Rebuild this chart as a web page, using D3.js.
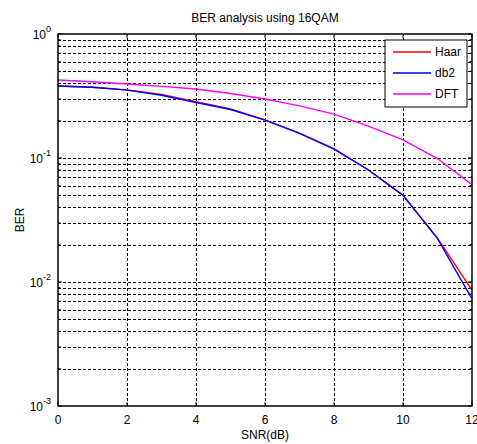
<!DOCTYPE html>
<meta charset="utf-8">
<style>
body { margin: 0; background: #fff; font-family: 'Liberation Sans', Arial, sans-serif; }
.grid line { stroke: #000; stroke-width: 1; stroke-dasharray: 3,2; shape-rendering: crispEdges; }
.lbl { font-size: 12px; fill: #000; }
.curve { fill: none; stroke-width: 1.4; }
</style>
<body>
<script src="https://d3js.org/d3.v7.min.js"></script>
<script>
// data
var snr = [0, 1, 2, 3, 4, 5, 6, 7, 8, 9, 10, 11, 12];
var haar = [0.381, 0.372, 0.354, 0.325, 0.285, 0.249, 0.203, 0.159, 0.119, 0.080, 0.050, 0.0226, 0.0086];
var db2  = [0.381, 0.372, 0.353, 0.321, 0.280, 0.246, 0.202, 0.158, 0.118, 0.080, 0.050, 0.0224, 0.0073];
var dft  = [0.426, 0.412, 0.395, 0.378, 0.360, 0.331, 0.299, 0.263, 0.226, 0.181, 0.140, 0.099, 0.061];
var xTicks = [0, 2, 4, 6, 8, 10, 12];
var yDecades = [-3, -2, -1, 0];
var seriesNames = ["Haar", "db2", "DFT"];
var seriesColors = ["#ff0000", "#0000ff", "#ff00ff"];

var margin = {top: 34, right: 5, bottom: 38, left: 58},
    width = 477 - margin.left - margin.right,
    height = 444 - margin.top - margin.bottom;

var svg = d3.select("body").append("svg")
    .attr("width", 477).attr("height", 444);
var g = svg.append("g").attr("transform", "translate(" + margin.left + "," + margin.top + ")");

var x = d3.scaleLinear().domain([0, 12]).range([0, width]);
var y = d3.scaleLog().domain([1e-3, 1]).range([height, 0]);

// minor + major y values
var yGrid = [];
yDecades.forEach(function(e) {
  for (var m = 1; m <= 9; m++) {
    var v = m * Math.pow(10, e);
    if (v > 1e-3 && v < 1) yGrid.push(v);
  }
});

g.append("g").attr("class", "grid")
  .call(d3.axisLeft(y).tickValues(yGrid).tickSize(-width).tickFormat(""))
  .call(s => s.select(".domain").remove());
g.append("g").attr("class", "grid")
  .attr("transform", "translate(0," + height + ")")
  .call(d3.axisBottom(x).tickValues(xTicks.slice(1, -1)).tickSize(-height).tickFormat(""))
  .call(s => s.select(".domain").remove());

// inside ticks (all four sides)
var tickLen = 4;
xTicks.forEach(function(t) {
  g.append("line").attr("x1", x(t)).attr("x2", x(t)).attr("y1", height).attr("y2", height - tickLen).attr("stroke", "#000");
  g.append("line").attr("x1", x(t)).attr("x2", x(t)).attr("y1", 0).attr("y2", tickLen).attr("stroke", "#000");
});
yGrid.concat([1e-3, 1]).forEach(function(v) {
  var len = yDecades.some(e => Math.abs(Math.pow(10, e) - v) < 1e-12) ? tickLen : 2.5;
  g.append("line").attr("x1", 0).attr("x2", len).attr("y1", y(v)).attr("y2", y(v)).attr("stroke", "#000");
  g.append("line").attr("x1", width).attr("x2", width - len).attr("y1", y(v)).attr("y2", y(v)).attr("stroke", "#000");
});

// curves
var line = d3.line().x((d, i) => x(snr[i])).y(d => y(d));
[haar, db2, dft].forEach(function(s, i) {
  g.append("path").attr("class", "curve").attr("stroke", seriesColors[i]).attr("d", line(s));
});

// box
g.append("rect").attr("width", width).attr("height", height)
  .attr("fill", "none").attr("stroke", "#000").attr("stroke-width", 1.5);

// x tick labels
xTicks.forEach(function(t) {
  g.append("text").attr("class", "lbl").attr("x", x(t)).attr("y", height + 18)
    .attr("text-anchor", "middle").text(t);
});
// y tick labels with superscripts
yDecades.forEach(function(e) {
  var t = g.append("text").attr("class", "lbl").attr("x", -7).attr("y", y(Math.pow(10, e)) + 5)
    .attr("text-anchor", "end");
  t.append("tspan").text("10");
  t.append("tspan").attr("dy", -7).style("font-size", "9px").text(e);
});

// title and axis labels
svg.append("text").attr("class", "lbl").attr("x", margin.left + width / 2).attr("y", 22)
  .attr("text-anchor", "middle").text("BER analysis using 16QAM");
svg.append("text").attr("class", "lbl").attr("x", margin.left + width / 2).attr("y", 439)
  .attr("text-anchor", "middle").text("SNR(dB)");
svg.append("text").attr("class", "lbl")
  .attr("transform", "translate(24," + (margin.top + height / 2) + ") rotate(-90)")
  .attr("text-anchor", "middle").text("BER");

// legend
var lg = svg.append("g").attr("transform", "translate(385,40)");
lg.append("rect").attr("width", 82).attr("height", 67).attr("fill", "#fff").attr("stroke", "#000");
seriesNames.forEach(function(n, i) {
  var yy = 12 + i * 21;
  lg.append("line").attr("x1", 8).attr("x2", 46).attr("y1", yy).attr("y2", yy)
    .attr("stroke", seriesColors[i]).attr("stroke-width", 1.4);
  lg.append("text").attr("class", "lbl").attr("x", 50).attr("y", yy + 4).text(n);
});
</script>
